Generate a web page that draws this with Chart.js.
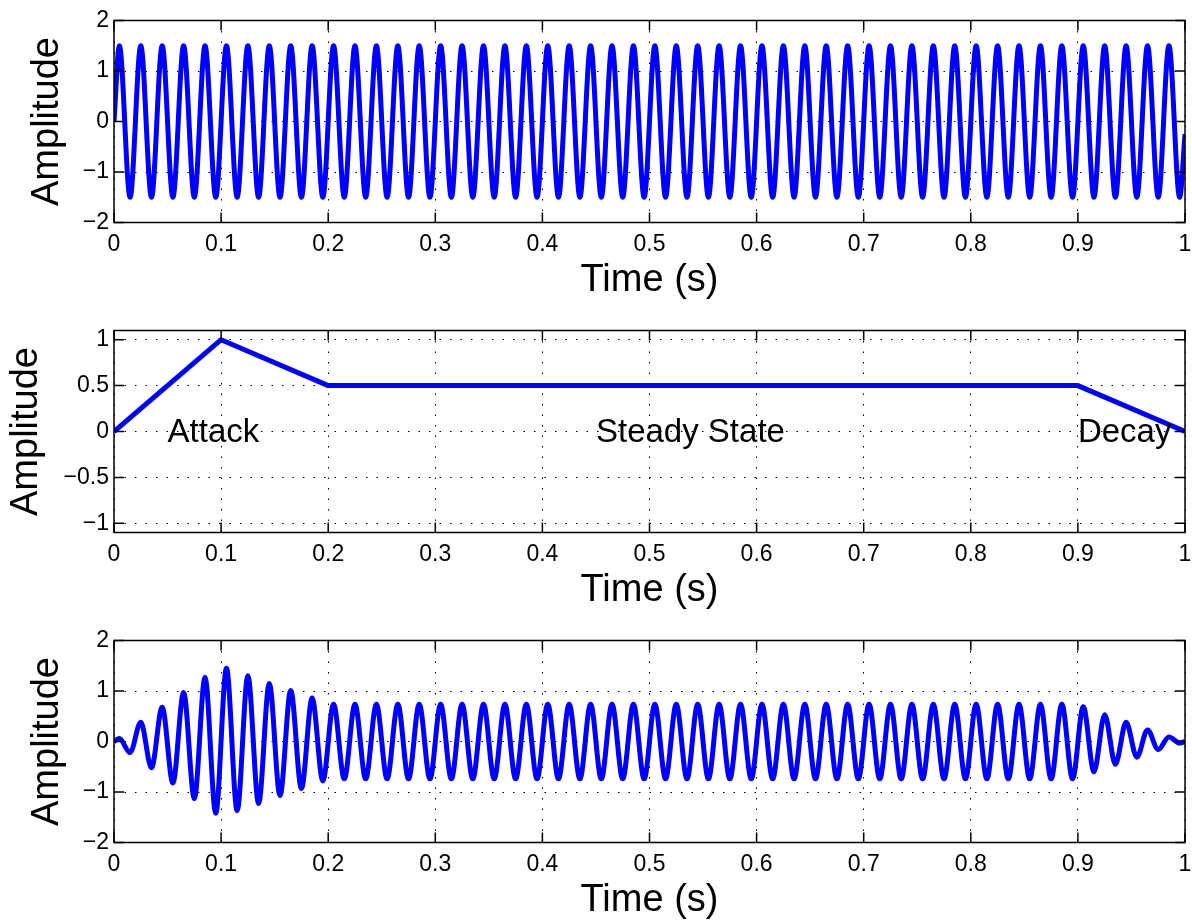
<!DOCTYPE html>
<html>
<head>
<meta charset="utf-8">
<script src="https://cdn.jsdelivr.net/npm/chart.js@4.4.1/dist/chart.umd.min.js"></script>
<style>
    html, body { margin: 0; padding: 0; background: #fff; overflow: hidden; width: 1192px; height: 921px; }
    canvas { position: absolute; left: 0; }
</style>
</head>
<body>
<canvas id="graphTone" width="1192" height="310" style="top:0px"></canvas>
<canvas id="graphEnveloppe" width="1192" height="310" style="top:310px"></canvas>
<canvas id="graphSon" width="1192" height="310" style="top:620px"></canvas>
<script>
// instants of the peaks / troughs of the 50 Hz tone (read on the picture), plus both ends
const waveTimes = [
    0,
    0.005, 0.015, 0.025, 0.035, 0.045, 0.055, 0.065, 0.075, 0.085, 0.095,
    0.105, 0.115, 0.125, 0.135, 0.145, 0.155, 0.165, 0.175, 0.185, 0.195,
    0.205, 0.215, 0.225, 0.235, 0.245, 0.255, 0.265, 0.275, 0.285, 0.295,
    0.305, 0.315, 0.325, 0.335, 0.345, 0.355, 0.365, 0.375, 0.385, 0.395,
    0.405, 0.415, 0.425, 0.435, 0.445, 0.455, 0.465, 0.475, 0.485, 0.495,
    0.505, 0.515, 0.525, 0.535, 0.545, 0.555, 0.565, 0.575, 0.585, 0.595,
    0.605, 0.615, 0.625, 0.635, 0.645, 0.655, 0.665, 0.675, 0.685, 0.695,
    0.705, 0.715, 0.725, 0.735, 0.745, 0.755, 0.765, 0.775, 0.785, 0.795,
    0.805, 0.815, 0.825, 0.835, 0.845, 0.855, 0.865, 0.875, 0.885, 0.895,
    0.905, 0.915, 0.925, 0.935, 0.945, 0.955, 0.965, 0.975, 0.985, 0.995,
    1
];

// top plot: pure tone
const toneValues = [
    0,
    1.5, -1.5, 1.5, -1.5, 1.5, -1.5, 1.5, -1.5, 1.5, -1.5,
    1.5, -1.5, 1.5, -1.5, 1.5, -1.5, 1.5, -1.5, 1.5, -1.5,
    1.5, -1.5, 1.5, -1.5, 1.5, -1.5, 1.5, -1.5, 1.5, -1.5,
    1.5, -1.5, 1.5, -1.5, 1.5, -1.5, 1.5, -1.5, 1.5, -1.5,
    1.5, -1.5, 1.5, -1.5, 1.5, -1.5, 1.5, -1.5, 1.5, -1.5,
    1.5, -1.5, 1.5, -1.5, 1.5, -1.5, 1.5, -1.5, 1.5, -1.5,
    1.5, -1.5, 1.5, -1.5, 1.5, -1.5, 1.5, -1.5, 1.5, -1.5,
    1.5, -1.5, 1.5, -1.5, 1.5, -1.5, 1.5, -1.5, 1.5, -1.5,
    1.5, -1.5, 1.5, -1.5, 1.5, -1.5, 1.5, -1.5, 1.5, -1.5,
    1.5, -1.5, 1.5, -1.5, 1.5, -1.5, 1.5, -1.5, 1.5, -1.5,
    -0.25
];

// middle plot: ADSR envelope
const envTimes = [0, 0.1, 0.2, 0.9, 1];
const envValues = [0, 1, 0.5, 0.5, 0];
const noteTexts = ['Attack', 'Steady State', 'Decay'];
const noteTimes = [0.05, 0.45, 0.9];
const noteLevels = [0, 0, 0];

// bottom plot: tone shaped by the envelope
const shapedValues = [
    0,
    0.06, -0.22, 0.38, -0.52, 0.68, -0.82, 0.97, -1.13, 1.27, -1.42,
    1.45, -1.37, 1.30, -1.23, 1.15, -1.07, 1.01, -0.93, 0.86, -0.78,
    0.74, -0.74, 0.74, -0.74, 0.74, -0.74, 0.74, -0.74, 0.74, -0.74,
    0.74, -0.74, 0.74, -0.74, 0.74, -0.74, 0.74, -0.74, 0.74, -0.74,
    0.74, -0.74, 0.74, -0.74, 0.74, -0.74, 0.74, -0.74, 0.74, -0.74,
    0.74, -0.74, 0.74, -0.74, 0.74, -0.74, 0.74, -0.74, 0.74, -0.74,
    0.74, -0.74, 0.74, -0.74, 0.74, -0.74, 0.74, -0.74, 0.74, -0.74,
    0.74, -0.74, 0.74, -0.74, 0.74, -0.74, 0.74, -0.74, 0.74, -0.74,
    0.74, -0.74, 0.74, -0.74, 0.74, -0.74, 0.74, -0.74, 0.74, -0.74,
    0.69, -0.60, 0.53, -0.45, 0.38, -0.31, 0.23, -0.16, 0.09, -0.03,
    0
];

// ticks
const timeTicks = [0, 0.1, 0.2, 0.3, 0.4, 0.5, 0.6, 0.7, 0.8, 0.9, 1];
const ampTicks = [-2, -1, 0, 1, 2];
const envTicks = [-1, -0.5, 0, 0.5, 1];

const police = "'Liberation Sans', Arial, Helvetica, sans-serif";


function formatTick(v) {
    const txt = String(Math.round(v * 10) / 10);
    return txt.replace('-', '\u2212');
}

function toPoints(xs, ys) {
    return xs.map((x, i) => ({x: x, y: ys[i]}));
}

/**
 * MATLAB-like box: frame all round, ticks pointing inside on the 4 sides, text notes
 */
const axesBox = {
    id: 'axesBox',
    afterDatasetsDraw(chart, args, opts) {
        const {ctx, chartArea: a, scales} = chart;
        ctx.save();
        ctx.strokeStyle = '#000';
        ctx.lineWidth = 1.5;
        ctx.beginPath();
        scales.x.ticks.forEach(t => {
            const px = scales.x.getPixelForValue(t.value);
            ctx.moveTo(px, a.bottom);
            ctx.lineTo(px, a.bottom - 10);
            ctx.moveTo(px, a.top);
            ctx.lineTo(px, a.top + 10);
        });
        scales.y.ticks.forEach(t => {
            const py = scales.y.getPixelForValue(t.value);
            ctx.moveTo(a.left, py);
            ctx.lineTo(a.left + 10, py);
            ctx.moveTo(a.right, py);
            ctx.lineTo(a.right - 10, py);
        });
        ctx.stroke();
        ctx.strokeRect(a.left, a.top, a.right - a.left, a.bottom - a.top);

        const notes = (opts && opts.notes) || [];
        ctx.fillStyle = '#000';
        ctx.font = '33px ' + police;
        ctx.textAlign = 'left';
        ctx.textBaseline = 'middle';
        notes.forEach(n => {
            ctx.fillText(n.text, scales.x.getPixelForValue(n.x), scales.y.getPixelForValue(n.y) + 1);
        });
        ctx.restore();
    }
};


function afficherGraphique(id, xs, ys, yMin, yMax, yTicks, titlePad, tension, notes) {
    const ctx = document.getElementById(id).getContext('2d');
    new Chart(ctx, {
        type: 'line',
        data: {
            datasets: [{
                data: toPoints(xs, ys),
                borderColor: '#0000ff',
                borderWidth: 5,
                pointRadius: 0,
                fill: false,
                cubicInterpolationMode: tension ? 'monotone' : 'default',
                tension: 0,
                borderJoinStyle: 'round'
            }]
        },
        options: {
            responsive: false,
            animation: false,
            devicePixelRatio: 1,
            layout: {padding: {top: 20.5, left: 0, right: 7, bottom: 0}},
            plugins: {
                legend: {display: false},
                tooltip: {enabled: false},
                axesBox: {notes: notes}
            },
            scales: {
                x: {
                    type: 'linear',
                    min: 0,
                    max: 1,
                    afterBuildTicks: s => { s.ticks = timeTicks.map(v => ({value: v})); },
                    afterFit: s => {
                        s.height = 87.5;
                        s.paddingLeft = 0;
                        s.paddingRight = 0;
                    },
                    ticks: {
                        callback: v => formatTick(v),
                        color: '#000',
                        font: {family: police, size: 23},
                        padding: 8,
                        maxRotation: 0,
                        autoSkip: false
                    },
                    grid: {color: '#000', lineWidth: 1, drawTicks: false},
                    border: {display: false, dash: [1.5, 9]},
                    title: {
                        display: true,
                        text: 'Time (s)',
                        color: '#000',
                        font: {family: police, size: 38},
                        padding: {top: 0, bottom: 6.5}
                    }
                },
                y: {
                    type: 'linear',
                    min: yMin,
                    max: yMax,
                    afterBuildTicks: s => { s.ticks = yTicks.map(v => ({value: v})); },
                    afterFit: s => { s.width = 114; },
                    ticks: {
                        callback: v => formatTick(v),
                        color: '#000',
                        font: {family: police, size: 23},
                        padding: 5
                    },
                    grid: {color: '#000', lineWidth: 1, drawTicks: false},
                    border: {display: false, dash: [1.5, 9]},
                    title: {
                        display: true,
                        text: 'Amplitude',
                        color: '#000',
                        font: {family: police, size: 38},
                        padding: {top: titlePad, bottom: 0}
                    }
                }
            }
        },
        plugins: [axesBox]
    });
}


const notes = noteTexts.map((t, i) => ({text: t, x: noteTimes[i], y: noteLevels[i]}));

afficherGraphique('graphTone', waveTimes, toneValues, -2, 2, ampTicks, 25, true, []);
afficherGraphique('graphEnveloppe', envTimes, envValues, -1.1, 1.1, envTicks, 4, false, notes);
afficherGraphique('graphSon', waveTimes, shapedValues, -2, 2, ampTicks, 25, true, []);
</script>
</body>
</html>
